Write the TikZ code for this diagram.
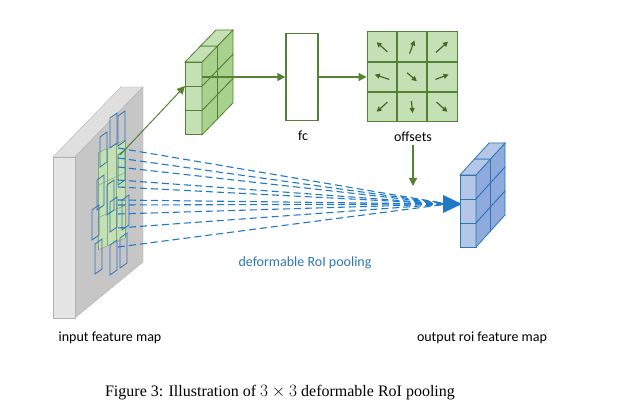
\documentclass[tikz,border=0pt]{standalone}
\usepackage{fontspec}
\setmainfont{Liberation Serif}
\newfontfamily\lab{Carlito}
\usetikzlibrary{arrows.meta,calc}
\definecolor{gfill}{HTML}{C5E0B4}
\definecolor{gside}{HTML}{A9D18E}
\definecolor{gline}{HTML}{548235}
\definecolor{bfill}{HTML}{B4C7E7}
\definecolor{bside}{HTML}{8FAADC}
\definecolor{bline}{HTML}{2E75B6}
\definecolor{dashblue}{HTML}{1F78C8}
\tikzset{
  garrow/.style={draw=gline,line width=1.3pt,-{Triangle[length=8pt,width=8pt]}},
  dl/.style={draw=dashblue,line width=1.1pt,dash pattern=on 7pt off 4pt},
  lbl/.style={font=\lab\fontsize{14}{16}\selectfont,text=black},
}
\newcommand{\mycube}[7]{% x y w h dx dy colprefix
  \foreach \i in {0,1,2}{
    \draw[draw=#7line,fill=#7fill,line width=0.8pt] (#1,{#2+\i*(#4)}) rectangle ++(#3,#4);
  }
  \foreach \k in {0,1}{
    \foreach \i in {0,1,2}{
      \draw[draw=#7line,fill=#7side,line width=0.8pt] ({#1+#3+\k*(#5)},{#2+\i*(#4)+\k*(#6)}) -- ++(#5,#6) -- ++(0,#4) -- ++({-(#5)},{-(#6)}) -- cycle;
    }
    \draw[draw=#7line,fill=#7fill,line width=0.8pt] ({#1+\k*(#5)},{#2+\k*(#6)}) -- ++(#5,#6) -- ++(#3,0) -- ++({-(#5)},{-(#6)}) -- cycle;
  }
}
\begin{document}
\begin{tikzpicture}[x=1pt,y=-1pt]
\useasboundingbox (0,0) rectangle (640,419);
% slab
\fill[gray!25,draw=gray!60] (53,157) -- (121,87) -- (143,87) -- (75,157) -- cycle;
\fill[gray!45,draw=gray!60] (75,157) -- (143,87) -- (143,262) -- (75,318) -- cycle;
\fill[gray!20,draw=gray!60] (53,157) rectangle (75,318);
% green grid on slab
\fill[gfill] (98,153) -- (125,140) -- (125,238) -- (98,250) -- cycle;
\foreach \t in {0,0.333,0.667,1}{
  \draw[gline!70,line width=0.5pt] ($(98,153)!\t!(125,140)$) -- ($(98,250)!\t!(125,238)$);
  \draw[gline!70,line width=0.5pt] ($(98,153)!\t!(98,250)$) -- ($(125,140)!\t!(125,238)$);
}
% blue small boxes
\foreach \x/\y in {100/137,110/118,118/116,97/180,107/185,118/155,92/210,110/202,122/200,95/244,110/245,120/238}{
  \draw[bline,line width=0.8pt] (\x,\y) -- ++(7,-5) -- ++(0,30) -- ++(-7,5) -- cycle;
}
\coordinate (tip) at (448,204);
\foreach \y in {148,158,167,180,187,200,205,214,228,247}{
  \coordinate (s) at (118,\y);
  \draw[dl] (s) -- (tip);
}
\fill[dashblue] (462,204) -- (443,195) -- (443,213) -- cycle;
% green cube
\mycube{185}{62}{17}{24.3}{15.5}{-16}{g}
\coordinate (gc) at (185,86);
\coordinate (ga) at (120,155);
\draw[garrow,line width=1pt] (ga) -- (gc);
% fc
\node[draw=gline,line width=1.3pt,minimum width=32pt,minimum height=87pt,inner sep=0] (fc) at (302,77) {};
\coordinate (gcr) at (202,77);
\draw[garrow] (gcr) -- (fc.west);
\node[lbl] (fcl) at (303,136) {fc};
% offsets
\node[draw=gline,fill=gfill,line width=1pt,minimum width=90pt,minimum height=90pt,inner sep=0] (off) at (412,77) {};
\draw[garrow] (fc.east) -- (off.west);
\foreach \v in {1,2}{
  \draw[gline,line width=1.2pt] (367+\v*30,32) -- (367+\v*30,122);
  \draw[gline,line width=1.2pt] (367,32+\v*30) -- (457,32+\v*30);
}
\foreach \cx/\cy/\dx/\dy in {382/47/-9/-8, 412/47/4/-11, 442/47/10/-9, 382/77/-12/-4, 412/77/8/7, 442/77/11/-4, 382/107/-9/8, 412/107/1/10, 442/107/9/8}{
  \draw[gline!80!black,line width=1.2pt,-{Triangle[length=5pt,width=5pt]}] ({\cx-(\dx)*0.6},{\cy-(\dy)*0.6}) -- ({\cx+(\dx)*0.6},{\cy+(\dy)*0.6});
}
\node[lbl] (offl) at (413,137) {offsets};
% blue cube
\mycube{460}{175}{16}{24}{14.5}{-16}{b}
\coordinate (bt) at (413,186);
\draw[garrow,line width=1.2pt] (offl.south) -- (bt);
% labels
\node[font=\lab\fontsize{14}{16}\selectfont,text=bline] (dr) at (305,263) {deformable RoI pooling};
\node[lbl] (in) at (110,338) {input feature map};
\node[lbl] (out) at (482,338) {output roi feature map};
\node[font=\fontsize{16}{18}\selectfont] (cap) at (280,393) {Figure 3: Illustration of $3\times3$ deformable RoI pooling};
\end{tikzpicture}
\end{document}
